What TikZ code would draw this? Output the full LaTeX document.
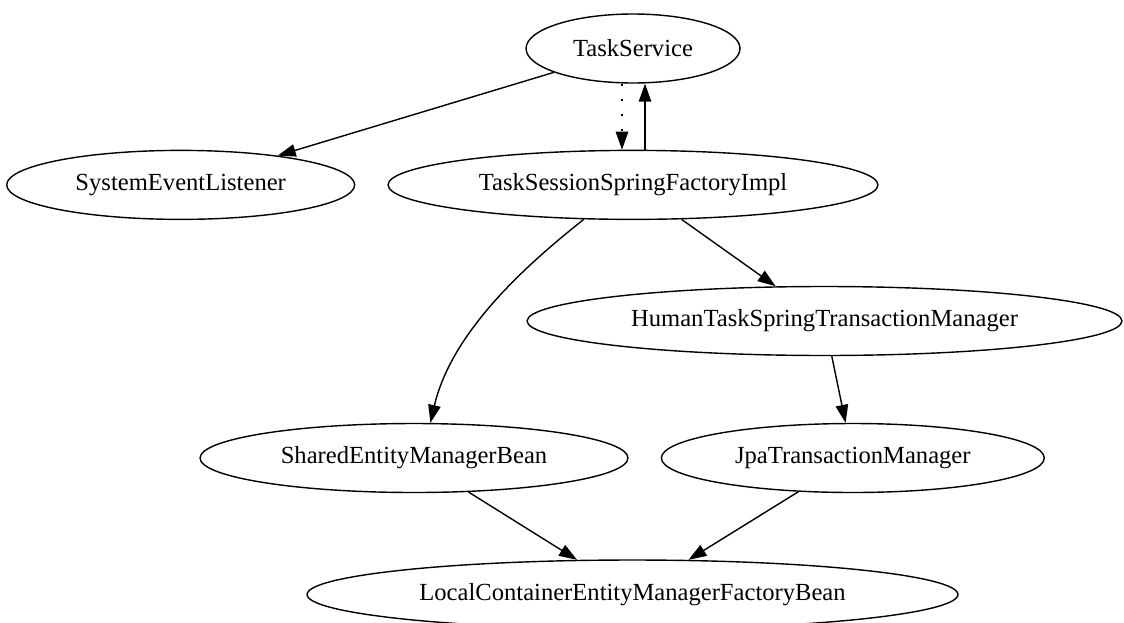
\documentclass[tikz,border=0pt]{standalone}
\usepackage{fontspec}
\setmainfont{Liberation Serif}
\usetikzlibrary{shapes.geometric, positioning, arrows.meta}

\begin{document}
\begin{tikzpicture}[x=0.02cm, y=-0.02cm,
    bean/.style={ellipse, draw, line width=0.8pt, inner sep=0pt,
        minimum height=1.38cm, font=\fontsize{14pt}{16pt}\selectfont},
    dep/.style={line width=0.8pt, -{Triangle[length=0.36cm, width=0.25cm]}}]
\useasboundingbox (0,0) rectangle (1124,622);

\node[bean, minimum width=4.28cm] (ts) at (633,48.5) {TaskService};
\node[bean, minimum width=9.8cm, below=1.32cm of ts] (tsf)
    {TaskSessionSpringFactoryImpl};
\node[bean, minimum width=6.96cm, left=0.64cm of tsf] (sel)
    {SystemEventListener};
\node[bean, minimum width=11.9cm] (htm) at (824.5,321)
    {HumanTaskSpringTransactionManager};
\node[bean, minimum width=8.56cm] (sem) at (414,458)
    {SharedEntityManagerBean};
\node[bean, minimum width=7.66cm, right=0.64cm of sem] (jpa)
    {JpaTransactionManager};
\node[bean, minimum width=13.02cm] (lcf) at (632.5,594.5)
    {LocalContainerEntityManagerFactoryBean};

\draw[dep] (ts) -- (sel);
\draw[dep, dash pattern=on 1.5pt off 7pt]
    ([xshift=-0.22cm]ts.south) -- ([xshift=-0.22cm]tsf.north);
\draw[dep] ([xshift=0.24cm]tsf.north) -- ([xshift=0.24cm]ts.south);
\draw[dep] (tsf) -- (htm);
\draw[dep] (tsf.215) .. controls (530,262) and (452,330) .. (sem.65.4);
\draw[dep] (htm) -- (jpa);
\draw[dep] (sem) -- (lcf);
\draw[dep] (jpa) -- (lcf);
\end{tikzpicture}
\end{document}
